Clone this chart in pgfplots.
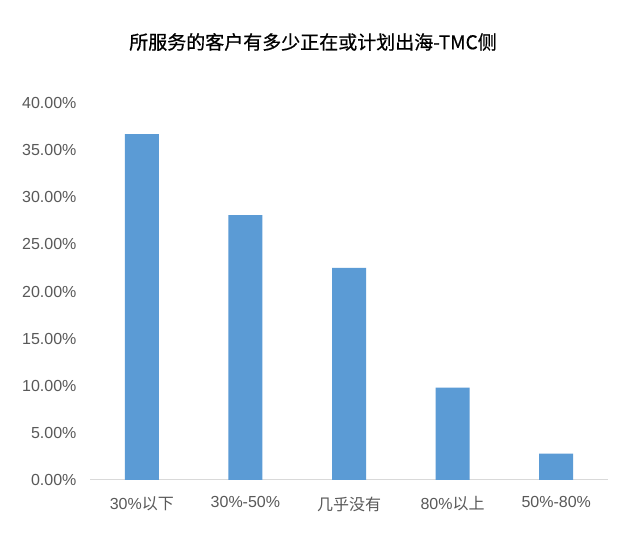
\documentclass[border=0pt]{standalone}
\usepackage{pgfplots}
\pgfplotsset{compat=1.18}
\usepackage{fontspec}
\setmainfont{Liberation Sans}
\newfontfamily\cjk{Noto Sans CJK SC}
\newfontfamily\cjktitle[FakeBold=0.6]{Noto Sans CJK SC}

\definecolor{barblue}{RGB}{91,155,213}
\definecolor{ticktext}{RGB}{89,89,89}
\definecolor{axisgray}{RGB}{217,217,217}

\begin{document}
\begin{tikzpicture}[x=1pt,y=1pt]
\path[fill=white] (0,0) rectangle (632,545);
\node[font=\cjktitle\fontsize{19}{22}\selectfont, text=black] at (313,503) {所服务的客户有多少正在或计划出海-TMC侧};
\begin{axis}[
at={(90pt,65pt)}, anchor=south west,
width=518pt, height=377pt, scale only axis,
xmin=-0.5, xmax=4.5,
ymin=0, ymax=40,
axis x line*=bottom,
axis y line*=left,
x axis line style={axisgray, line width=1pt, -},
y axis line style={draw=none},
tick style={draw=none},
ytick={0,5,...,40},
/pgf/number format/assume math mode=true,
yticklabel={\pgfmathprintnumber[fixed,fixed zerofill,precision=2]{\tick}\%},
yticklabel style={font=\fontsize{16}{19}\selectfont, text=ticktext, xshift=-10pt},
xtick={0,1,2,3,4},
xticklabels={30\%{\cjk 以下}, 30\%-50\%, {\cjk 几乎没有}, 80\%{\cjk 以上}, 50\%-80\%},
xticklabel style={font=\fontsize{16}{19}\selectfont, text=ticktext, yshift=-9pt},
ybar, bar width=34pt,
]
\addplot [fill=barblue, draw=none]
coordinates {
(0,36.7)
(1,28.1)
(2,22.5)
(3,9.8)
(4,2.8)
};
\end{axis}
\end{tikzpicture}
\end{document}
